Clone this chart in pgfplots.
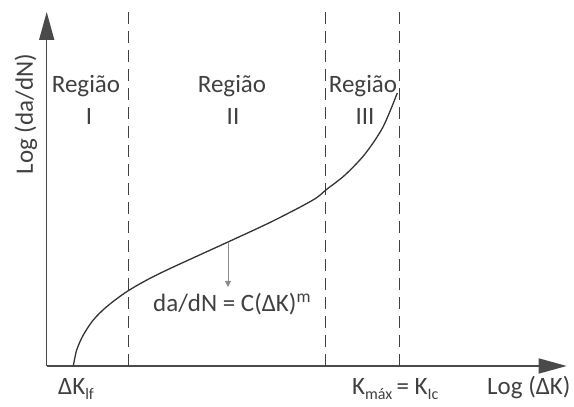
\documentclass[border=0pt]{standalone}
\usepackage{pgfplots}
\pgfplotsset{compat=1.18}
\usepackage{fontspec}
\setmainfont{Carlito}
\usetikzlibrary{arrows.meta}
\definecolor{txt}{HTML}{404040}
\definecolor{axl}{HTML}{4A4A4A}
\definecolor{crv}{HTML}{333333}
\definecolor{ann}{HTML}{8C8C8C}
\newcommand{\sub}[1]{\raisebox{-5pt}{\fontsize{16}{16}\selectfont #1}}
\begin{document}
\begin{tikzpicture}
\begin{axis}[
  x=1pt, y=1pt,
  xmin=46.7, xmax=566.7,
  ymin=41, ymax=395,
  axis lines*=left,
  axis line style={draw=axl, line width=1.6pt, -{Triangle[length=28pt,width=15pt]}},
  xtick=\empty, ytick=\empty,
  clip=false,
  font=\fontsize{25}{30}\selectfont,
]
% page frame
\path (axis cs:0,0) rectangle (axis cs:574,407);

% boundaries between the three regions
\addplot[draw=txt, line width=1.3pt, dash pattern=on 12pt off 7pt] coordinates {(128.3,41) (128.3,395)};
\addplot[draw=txt, line width=1.3pt, dash pattern=on 12pt off 7pt] coordinates {(325.7,41) (325.7,395)};
\addplot[draw=txt, line width=1.3pt, dash pattern=on 12pt off 7pt] coordinates {(399.2,41) (399.2,395)};

% crack growth curve
\addplot[draw=crv, line width=1.3pt, smooth, tension=0.5] coordinates {
  (73.3,41) (76.7,57) (83.3,72) (93.3,87) (106.7,100.3) (128.3,116.3)
  (160,133.7) (228,165) (273,186) (313,207) (326.7,217.7)
  (345,232) (365,253) (383,280) (397.3,314)
};

% Paris law pointer
\draw[draw=ann, line width=1pt, -{Triangle[length=6pt,width=6pt]}] (axis cs:228,165) -- (axis cs:228,120);

\node[txt, anchor=base] at (axis cs:86,314) {Região};
\node[txt, anchor=base] at (axis cs:89,282) {I};
\node[txt, anchor=base] at (axis cs:232,314) {Região};
\node[txt, anchor=base] at (axis cs:233,282) {II};
\node[txt, anchor=base] at (axis cs:363,314) {Região};
\node[txt, anchor=base] at (axis cs:365,282) {III};

\node[txt, anchor=base west, inner sep=0pt] at (axis cs:153,95) {da/dN = C(ΔK)\textsuperscript{m}};

\node[txt, rotate=90, anchor=center] at (axis cs:26,293) {Log (da/dN)};
\node[txt, anchor=base west, inner sep=0pt] at (axis cs:58,12) {ΔK\sub{lf}};
\node[txt, anchor=base west, inner sep=0pt] at (axis cs:352,12) {K\sub{máx}\,= K\sub{Ic}};
\node[txt, anchor=base west, inner sep=0pt] at (axis cs:487,12) {Log (ΔK)};
\end{axis}
\end{tikzpicture}
\end{document}
